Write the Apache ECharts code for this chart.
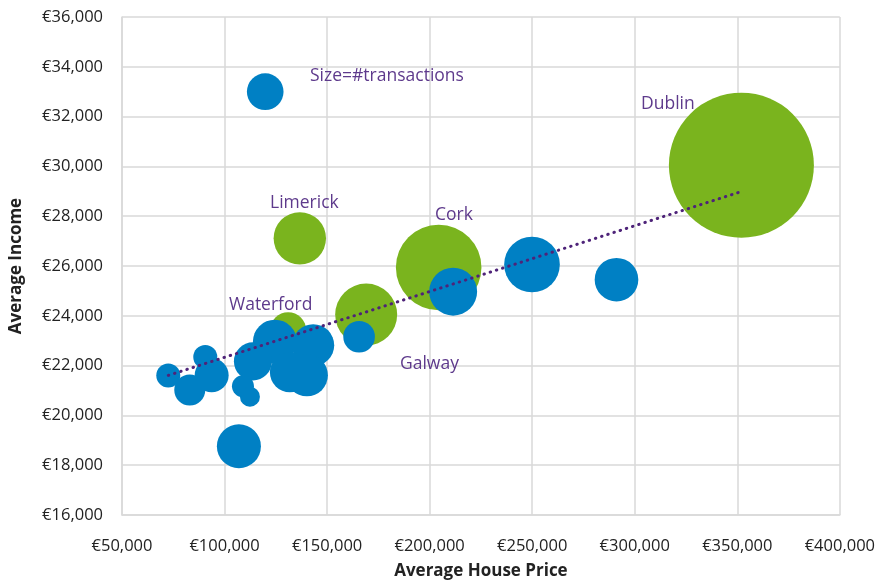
<!DOCTYPE html>
<html>
<head>
<meta charset="utf-8">
<script src="https://cdn.jsdelivr.net/npm/echarts@6/dist/echarts.min.js"></script>
<style>
html, body { margin: 0; padding: 0; background: #fff; }
#main { width: 878px; height: 585px; }
</style>
</head>
<body>
<div id="main"></div>
<script>
// main cities (green bubbles)
var cityNames  = ['Dublin', 'Cork', 'Limerick', 'Galway', 'Waterford'];
var cityPrice  = [352000, 204400, 136700, 169050, 131000];
var cityIncome = [30050, 25940, 27110, 24050, 23420];
var cityCount  = [18000, 6270, 2350, 3290, 1110];

// other counties (blue bubbles)
var restPrice  = [119830, 249900, 291100, 211450, 165600, 107000, 124560, 143230, 131870, 140160, 113840, 108970, 112380, 72560, 83040, 90600, 93710];
var restIncome = [33000, 26060, 25450, 24970, 23160, 18760, 22960, 22820, 21730, 21610, 22170, 21170, 20750, 21600, 21020, 22350, 21610];
var restCount  = [1150, 2650, 1630, 1970, 855, 1660, 1660, 1510, 1370, 1510, 1240, 414, 342, 493, 823, 493, 990];

var xTicks = [50000, 400000, 50000];   // min, max, step
var yTicks = [16000, 36000, 2000];

function zip(xs, ys, ss) {
  var out = [];
  for (var i = 0; i < xs.length; i++) out.push([xs[i], ys[i], ss[i]]);
  return out;
}

var cityData = zip(cityPrice, cityIncome, cityCount);
var restData = zip(restPrice, restIncome, restCount);

// linear trendline over all points
var allX = cityPrice.concat(restPrice), allY = cityIncome.concat(restIncome);
var n = allX.length, sx = 0, sy = 0, sxx = 0, sxy = 0;
for (var i = 0; i < n; i++) {
  sx += allX[i]; sy += allY[i]; sxx += allX[i] * allX[i]; sxy += allX[i] * allY[i];
}
var slope = (n * sxy - sx * sy) / (n * sxx - sx * sx);
var icpt = (sy - slope * sx) / n;
var xMin = Math.min.apply(null, allX), xMax = Math.max.apply(null, allX);
var trendData = [[xMin, icpt + slope * xMin], [xMax, icpt + slope * xMax]];

var maxCount = 18000;
function bubble(d) { return 145 * Math.sqrt(d[2] / maxCount); }

function euro(v) { return '€' + v.toLocaleString('en-US'); }

var purple = '#5E3A8C';
var font = '"Open Sans", sans-serif';

function note(txt, x, y) {
  return {
    type: 'text', x: x, y: y, z: 100,
    style: { text: txt, font: '17.5px ' + font, fill: purple, verticalAlign: 'middle' }
  };
}

var chart = echarts.init(document.getElementById('main'));

var option = {
  animation: false,
  grid: { left: 122, right: 38, top: 17, bottom: 68 },
  xAxis: {
    type: 'value',
    min: xTicks[0], max: xTicks[1], interval: xTicks[2],
    name: 'Average House Price',
    nameLocation: 'middle',
    nameGap: 48,
    nameTextStyle: { fontFamily: font, fontWeight: 'bold', fontSize: 17, color: '#222' },
    axisLine: { show: true, lineStyle: { color: '#d9d9d9', width: 1.5 } },
    axisTick: { show: false },
    splitLine: { lineStyle: { color: '#d9d9d9', width: 1.5 } },
    axisLabel: { margin: 23, fontFamily: font, fontSize: 16.5, color: '#222', formatter: euro }
  },
  yAxis: {
    type: 'value',
    min: yTicks[0], max: yTicks[1], interval: yTicks[2],
    name: 'Average Income',
    nameLocation: 'middle',
    nameGap: 97,
    nameRotate: 90,
    nameTextStyle: { fontFamily: font, fontWeight: 'bold', fontSize: 17, color: '#222' },
    axisLine: { show: true, lineStyle: { color: '#d9d9d9', width: 1.5 } },
    axisTick: { show: false },
    splitLine: { lineStyle: { color: '#d9d9d9', width: 1.5 } },
    axisLabel: { margin: 19, fontFamily: font, fontSize: 16.5, color: '#222', formatter: euro }
  },
  series: [
    {
      name: 'Cities',
      type: 'scatter',
      data: cityData,
      symbolSize: bubble,
      itemStyle: { color: '#7AB41E', opacity: 1 },
      z: 2
    },
    {
      name: 'Counties',
      type: 'scatter',
      data: restData,
      symbolSize: bubble,
      itemStyle: { color: '#0080C4', opacity: 1 },
      z: 3
    },
    {
      name: 'Trend',
      type: 'line',
      data: trendData,
      symbol: 'none',
      lineStyle: { color: '#4E2379', width: 3, type: [0.5, 6], cap: 'round' },
      z: 4
    }
  ],
  graphic: [
    note('Size=#transactions', 310, 76),
    note('Dublin', 641, 104),
    note('Cork', 435, 215),
    note('Limerick', 270, 203),
    note('Waterford', 229, 305),
    note('Galway', 400, 364)
  ]
};

chart.setOption(option);
</script>
</body>
</html>
